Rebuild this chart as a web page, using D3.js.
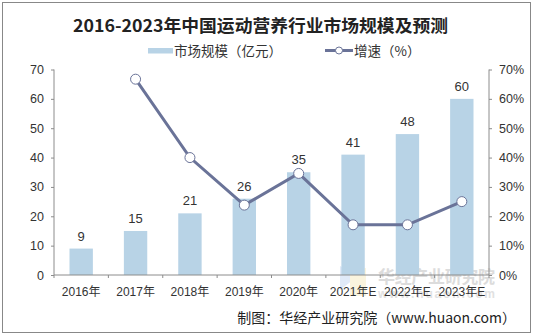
<!DOCTYPE html>
<html>
<head>
<meta charset="utf-8">
<script src="https://cdn.jsdelivr.net/npm/d3@7"></script>
<style>
  body { margin: 0; background: #fff; }
  svg text { font-family: "Liberation Sans", Arial, "Noto Sans CJK SC", sans-serif; }
</style>
</head>
<body>
<div id="chart"></div>
<script>
// data
const years = ['2016年', '2017年', '2018年', '2019年', '2020年', '2021年E', '2022年E', '2023年E'];
const marketSize = [9, 15, 21, 26, 35, 41, 48, 60];          // 亿元
const growthRate = [null, 66.7, 40.0, 23.8, 34.6, 17.1, 17.1, 25.0]; // %
const leftTicks = [0, 10, 20, 30, 40, 50, 60, 70];
const rightTicks = [0, 10, 20, 30, 40, 50, 60, 70];

const W = 534, H = 336;
const margin = { top: 69.5, right: 45, bottom: 61, left: 54 };
const width = W - margin.left - margin.right;
const height = H - margin.top - margin.bottom;

const barColor = '#b8d3e6';
const lineColor = '#6a7398';
const textColor = '#333';
const axisColor = '#8c8c8c';

const svg = d3.select('#chart').append('svg')
  .attr('width', W)
  .attr('height', H);

// outer frame
svg.append('rect')
  .attr('x', 2.5).attr('y', 2.5)
  .attr('width', 528).attr('height', 330)
  .attr('fill', '#fff')
  .attr('stroke', '#888')
  .attr('stroke-width', 1);

// title
svg.append('text')
  .attr('x', 73).attr('y', 32)
  .attr('textLength', 375)
  .attr('lengthAdjust', 'spacingAndGlyphs')
  .style('font-family', '"Noto Sans CJK SC", sans-serif')
  .style('font-weight', 'bold')
  .style('font-size', '17px')
  .attr('fill', '#222')
  .text('2016-2023年中国运动营养行业市场规模及预测');

// legend
const legend = svg.append('g');
legend.append('rect')
  .attr('x', 148).attr('y', 48).attr('width', 25).attr('height', 5.5)
  .attr('fill', barColor);
legend.append('text')
  .attr('x', 174).attr('y', 55.5)
  .style('font-size', '13.5px').attr('fill', textColor)
  .style('font-family', '"Noto Sans CJK SC", sans-serif')
  .text('市场规模（亿元）');
legend.append('line')
  .attr('x1', 325).attr('x2', 353).attr('y1', 50.5).attr('y2', 50.5)
  .attr('stroke', lineColor).attr('stroke-width', 3);
legend.append('circle')
  .attr('cx', 339).attr('cy', 50.5).attr('r', 3.5)
  .attr('fill', '#fff').attr('stroke', lineColor).attr('stroke-width', 1);
legend.append('text')
  .attr('x', 354).attr('y', 55.5)
  .style('font-size', '13.5px').attr('fill', textColor)
  .style('font-family', '"Noto Sans CJK SC", sans-serif')
  .text('增速（%）');

// watermark
const wm = svg.append('g').attr('opacity', 0.85);
wm.append('path')
  .attr('d', 'M340,266 L358,276 L340,290 Z')
  .attr('fill', '#dbe7f7');
wm.append('path')
  .attr('d', 'M350,270 L366,268 L366,296 L350,296 Z')
  .attr('fill', '#faf3d9');
wm.append('text')
  .attr('x', 378).attr('y', 283)
  .attr('textLength', 117)
  .style('font-family', '"Noto Sans CJK SC", sans-serif')
  .style('font-weight', 'bold')
  .style('font-size', '17px')
  .attr('fill', '#d6d6d6')
  .text('华经产业研究院');
wm.append('text')
  .attr('x', 378).attr('y', 298)
  .attr('textLength', 117)
  .style('font-weight', 'bold')
  .style('font-size', '12px')
  .attr('fill', '#dcdcdc')
  .text('www.huaon.com');

const g = svg.append('g')
  .attr('transform', `translate(${margin.left},${margin.top})`);

const x = d3.scaleBand()
  .domain(years)
  .range([0, width])
  .paddingInner(0.57)
  .paddingOuter(0.285);

const y = d3.scaleLinear().domain([0, 70]).range([height, 0]);
const y2 = d3.scaleLinear().domain([0, 70]).range([height, 0]);

// bars
g.selectAll('rect.bar')
  .data(marketSize)
  .enter().append('rect')
  .attr('class', 'bar')
  .attr('x', (d, i) => x(years[i]))
  .attr('y', d => y(d))
  .attr('width', x.bandwidth())
  .attr('height', d => height - y(d))
  .attr('fill', barColor);

// bar value labels
g.selectAll('text.val')
  .data(marketSize)
  .enter().append('text')
  .attr('class', 'val')
  .attr('x', (d, i) => x(years[i]) + x.bandwidth() / 2)
  .attr('y', d => y(d) - 8)
  .attr('text-anchor', 'middle')
  .style('font-size', '13px')
  .attr('fill', textColor)
  .text(d => d);

// left axis
const yAxis = g.append('g')
  .call(d3.axisLeft(y).tickValues(leftTicks).tickSize(3).tickPadding(7));
// right axis
const y2Axis = g.append('g')
  .attr('transform', `translate(${width},0)`)
  .call(d3.axisRight(y2).tickValues(rightTicks).tickSize(3).tickPadding(7).tickFormat(d => d + '%'));

// x axis: ticks at category boundaries
const step = width / years.length;
const xAxis = g.append('g').attr('transform', `translate(0,${height})`);
xAxis.append('line')
  .attr('x1', 0).attr('x2', width)
  .attr('stroke', axisColor);
xAxis.selectAll('line.tk')
  .data(d3.range(years.length + 1))
  .enter().append('line')
  .attr('class', 'tk')
  .attr('x1', i => i * step).attr('x2', i => i * step)
  .attr('y1', 0).attr('y2', 3)
  .attr('stroke', axisColor);
xAxis.selectAll('text')
  .data(years)
  .enter().append('text')
  .attr('x', d => x(d) + x.bandwidth() / 2)
  .attr('y', 20.5)
  .attr('text-anchor', 'middle')
  .style('font-size', '12px')
  .style('font-family', '"Liberation Sans", "Noto Sans CJK SC", sans-serif')
  .attr('fill', textColor)
  .text(d => d);

[yAxis, y2Axis].forEach(ax => {
  ax.select('.domain').attr('stroke', axisColor);
  ax.selectAll('.tick line').attr('stroke', axisColor);
  ax.selectAll('.tick text')
    .style('font-size', '12.5px')
    .attr('fill', textColor);
});
y2Axis.select('.domain').attr('d', `M0,0V${height}`);
yAxis.select('.domain').attr('d', `M0,0V${height}`);

// growth line
const pts = growthRate.map((v, i) => ({ k: years[i], v })).filter(d => d.v != null);
const line = d3.line()
  .x(d => x(d.k) + x.bandwidth() / 2)
  .y(d => y2(d.v));

g.append('path')
  .datum(pts)
  .attr('d', line)
  .attr('fill', 'none')
  .attr('stroke', lineColor)
  .attr('stroke-width', 3);

g.selectAll('circle.pt')
  .data(pts)
  .enter().append('circle')
  .attr('class', 'pt')
  .attr('cx', d => x(d.k) + x.bandwidth() / 2)
  .attr('cy', d => y2(d.v))
  .attr('r', 5)
  .attr('fill', '#fff')
  .attr('stroke', lineColor)
  .attr('stroke-width', 1);

// source note
svg.append('text')
  .attr('x', 516).attr('y', 323)
  .attr('text-anchor', 'end')
  .style('font-size', '14px')
  .style('font-family', '"Noto Sans CJK SC", sans-serif')
  .attr('fill', '#222')
  .text('制图：华经产业研究院（www.huaon.com）');
</script>
</body>
</html>
